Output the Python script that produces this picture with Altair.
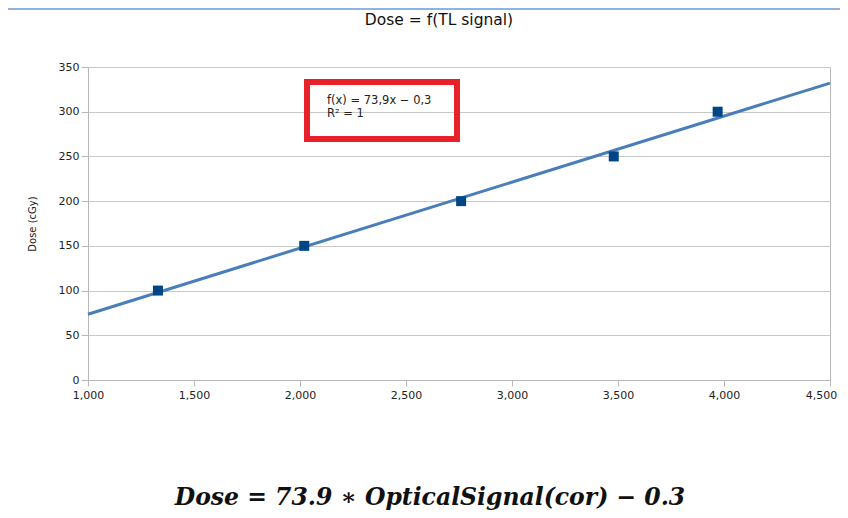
import altair as alt
import pandas as pd

# ---- data ----
signal = [1.33, 2.02, 2.76, 3.48, 3.97]
dose = [100, 150, 200, 250, 300]
x_ticks = [1.0, 1.5, 2.0, 2.5, 3.0, 3.5, 4.0, 4.5]
y_ticks = [0, 50, 100, 150, 200, 250, 300, 350]
title_text = "Dose = f(TL signal)"
fit_lines = ["f(x) = 73,9x \u2212 0,3", "R\u00b2 = 1"]
formula_text = "Dose = 73.9 \u2217 OpticalSignal(cor) \u2212 0.3"
y_title = "Dose (cGy)"

df = pd.DataFrame({"signal": signal, "dose": dose})
one = pd.DataFrame({"k": [0]})

W, H = 742, 313
GRAY = "#b8b8b8"
FONT = "DejaVu Sans"

xscale = alt.Scale(domain=[1, 4.5], nice=False, zero=False)
yscale = alt.Scale(domain=[0, 350], nice=False)

xaxis = alt.Axis(values=x_ticks, title=None, grid=False,
                 labelExpr="replace(format(datum.value, '.3f'), '.', ',')",
                 labelFont=FONT, labelFontSize=11, labelColor="#222222",
                 domainColor=GRAY, tickColor=GRAY, tickSize=6, labelPadding=3,
                 labelFlush=False,
                 labelOffset=alt.condition("datum.value == 4.5", alt.value(-9), alt.value(0)))
yaxis = alt.Axis(values=y_ticks, title=y_title, grid=True, gridColor="#c8c8c8",
                 labelFont=FONT, labelFontSize=11, labelColor="#222222",
                 domainColor=GRAY, tickColor=GRAY, tickSize=7, labelPadding=2,
                 titleFont=FONT, titleFontSize=10, titleFontWeight="normal",
                 titleColor="#222222", titlePadding=21)

trend = alt.Chart(df).transform_regression(
    "signal", "dose", extent=[1, 4.5]
).mark_line(color="#4a7ebb", strokeWidth=3).encode(
    x=alt.X("signal:Q", scale=xscale, axis=xaxis),
    y=alt.Y("dose:Q", scale=yscale, axis=yaxis),
)

points = alt.Chart(df).mark_square(size=100, color="#004586", opacity=1).encode(
    x=alt.X("signal:Q", scale=xscale),
    y=alt.Y("dose:Q", scale=yscale),
)

box = alt.Chart(one).mark_rect(fill=None, stroke="#e8202a", strokeWidth=6).encode(
    x=alt.value(219), x2=alt.value(369), y=alt.value(15), y2=alt.value(72)
)

fit1 = alt.Chart(one).mark_text(align="left", font=FONT, fontSize=11.5, color="#222222",
                                text=fit_lines[0]).encode(x=alt.value(239), y=alt.value(34))
fit2 = alt.Chart(one).mark_text(align="left", font=FONT, fontSize=11.5, color="#222222",
                                text=fit_lines[1]).encode(x=alt.value(239), y=alt.value(47))

title = alt.Chart(one).mark_text(align="center", font=FONT, fontSize=15.5,
                                 color="#111111", text=title_text).encode(
    x=alt.value(351), y=alt.value(-47))

formula = alt.Chart(one).mark_text(align="center", baseline="alphabetic",
                                   font="DejaVu Serif", fontSize=23.5,
                                   fontWeight="bold", fontStyle="italic", color="#111111",
                                   text=formula_text).encode(
    x=alt.value(342), y=alt.value(438))

band = alt.Chart(one).mark_rect(color="#8db4e2").encode(
    x=alt.value(-80), x2=alt.value(762), y=alt.value(-67), y2=alt.value(-57)
)

chart = alt.layer(band, trend, points, box, fit1, fit2, title, formula).properties(
    width=W, height=H,
    autosize=alt.AutoSizeParams(type="none"),
    padding={"left": 80, "top": 59, "right": 10, "bottom": 130},
).configure_view(stroke=GRAY, strokeWidth=1)

chart.save("out.html", embed_options={"renderer": "svg", "actions": False})
